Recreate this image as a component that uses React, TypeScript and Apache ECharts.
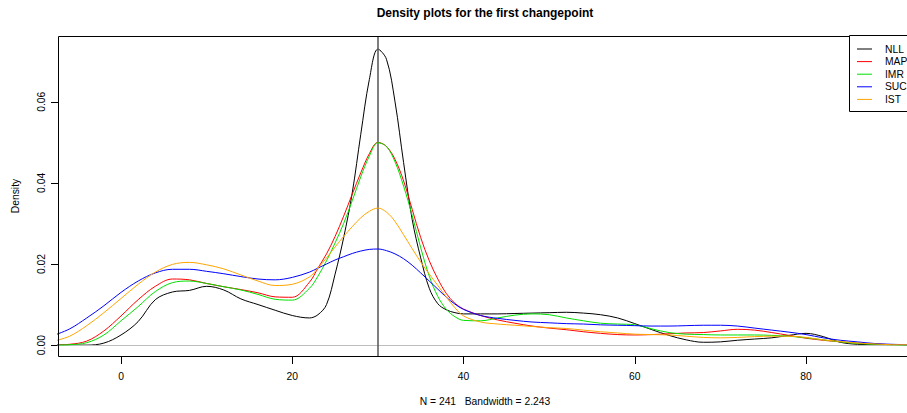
import React, { useEffect, useRef } from "react";
import * as echarts from "echarts";

const xs = [-8, -6, -4, -2, 0, 2, 4, 6, 8, 10, 12, 14, 16, 18, 20, 22,
  23, 24, 25, 26, 27, 28, 29, 30, 31, 32, 33, 34, 35, 36, 37, 38, 39, 40,
  42, 44, 46, 48, 50, 52, 54, 56, 58, 60, 62, 64, 66, 68, 70, 72, 74, 76, 78, 80, 82, 84, 86, 88, 90, 92, 94];

const nll = [0.0000, 0.0000, 0.0000, 0.0005, 0.0025, 0.0058, 0.0112, 0.0131, 0.0135, 0.0145, 0.0136, 0.0114, 0.0100, 0.0086, 0.0073, 0.0067,
  0.0075, 0.0100, 0.0175, 0.0265, 0.0375, 0.0520, 0.0655, 0.0730, 0.0705, 0.0600, 0.0450, 0.0310, 0.0215, 0.0140, 0.0102, 0.0087, 0.0080, 0.0077,
  0.0077, 0.0077, 0.0078, 0.0079, 0.0080, 0.0081, 0.0079, 0.0075, 0.0067, 0.0053, 0.0038, 0.0024, 0.0013, 0.0007, 0.0008, 0.0012, 0.0015, 0.0018, 0.0024, 0.0029, 0.0021, 0.0007, 0.0002, 0.0001, 0.0000, 0.0000, 0.0000];

const mapv = [0.0000, 0.0002, 0.0010, 0.0035, 0.0072, 0.0112, 0.0145, 0.0163, 0.0161, 0.0152, 0.0144, 0.0137, 0.0129, 0.0119, 0.0118, 0.0155,
  0.0190, 0.0225, 0.0268, 0.0318, 0.0372, 0.0425, 0.0472, 0.0500, 0.0490, 0.0458, 0.0405, 0.0335, 0.0265, 0.0208, 0.0163, 0.0127, 0.0103, 0.0089,
  0.0073, 0.0062, 0.0054, 0.0047, 0.0042, 0.0038, 0.0033, 0.0029, 0.0026, 0.0025, 0.0026, 0.0028, 0.0030, 0.0031, 0.0035, 0.0039, 0.0037, 0.0031, 0.0024, 0.0017, 0.0012, 0.0008, 0.0005, 0.0003, 0.0001, 0.0000, 0.0000];

const imr = [0.0000, 0.0001, 0.0006, 0.0025, 0.0060, 0.0095, 0.0132, 0.0154, 0.0158, 0.0152, 0.0144, 0.0136, 0.0125, 0.0113, 0.0111, 0.0140,
  0.0170, 0.0208, 0.0252, 0.0300, 0.0356, 0.0415, 0.0466, 0.0499, 0.0490, 0.0452, 0.0392, 0.0320, 0.0240, 0.0170, 0.0120, 0.0088, 0.0070, 0.0061,
  0.0060, 0.0067, 0.0074, 0.0077, 0.0075, 0.0067, 0.0060, 0.0054, 0.0052, 0.0050, 0.0040, 0.0031, 0.0027, 0.0026, 0.0025, 0.0025, 0.0025, 0.0024, 0.0022, 0.0018, 0.0013, 0.0008, 0.0004, 0.0002, 0.0001, 0.0000, 0.0000];

const suc = [0.0023, 0.0040, 0.0067, 0.0097, 0.0130, 0.0158, 0.0178, 0.0187, 0.0187, 0.0182, 0.0176, 0.0169, 0.0163, 0.0161, 0.0167, 0.0180,
  0.0190, 0.0200, 0.0210, 0.0218, 0.0226, 0.0232, 0.0236, 0.0237, 0.0233, 0.0225, 0.0213, 0.0197, 0.0178, 0.0158, 0.0138, 0.0118, 0.0101, 0.0088,
  0.0073, 0.0066, 0.0061, 0.0057, 0.0055, 0.0053, 0.0052, 0.0050, 0.0049, 0.0048, 0.0047, 0.0047, 0.0048, 0.0049, 0.0049, 0.0047, 0.0042, 0.0037, 0.0032, 0.0026, 0.0018, 0.0012, 0.0008, 0.0004, 0.0002, 0.0001, 0.0000];

const ist = [0.0009, 0.0022, 0.0048, 0.0080, 0.0115, 0.0150, 0.0180, 0.0199, 0.0204, 0.0198, 0.0188, 0.0173, 0.0158, 0.0147, 0.0150, 0.0168,
  0.0190, 0.0215, 0.0242, 0.0268, 0.0292, 0.0314, 0.0330, 0.0338, 0.0328, 0.0305, 0.0272, 0.0238, 0.0205, 0.0175, 0.0147, 0.0118, 0.0092, 0.0072,
  0.0057, 0.0052, 0.0049, 0.0046, 0.0043, 0.0041, 0.0037, 0.0033, 0.0030, 0.0027, 0.0026, 0.0025, 0.0022, 0.0019, 0.0018, 0.0019, 0.0021, 0.0022, 0.0022, 0.0019, 0.0013, 0.0009, 0.0005, 0.0003, 0.0001, 0.0001, 0.0000];

const seriesNames = ["NLL", "MAP", "IMR", "SUC", "IST"];
const seriesColors = ["#000000", "#FF0000", "#00E000", "#0000FF", "#FFA500"];
const seriesValues = [nll, mapv, imr, suc, ist];
const xTicks = [0, 20, 40, 60, 80];
const yTicks = [0, 0.02, 0.04, 0.06];
const changepoint = 30;
const titleText = "Density plots for the first changepoint";
const subText = "N = 241   Bandwidth = 2.243";

const FONT = "Liberation Sans, Arial, Helvetica, sans-serif";

export default function App() {
  const ref = useRef<HTMLDivElement>(null);
  useEffect(() => {
    if (!ref.current) return;
    const chart = echarts.init(ref.current, undefined, { renderer: "svg" });
    const series: any[] = seriesValues.map((vals, i) => ({
      name: seriesNames[i],
      type: "line",
      data: xs.map((x, j) => [x, vals[j]]),
      smooth: 0.35,
      showSymbol: false,
      symbol: "none",
      lineStyle: { color: seriesColors[i], width: 1 },
      itemStyle: { color: seriesColors[i] },
      z: 3 + i,
      silent: true,
    }));
    series.unshift({
      type: "line",
      data: [],
      silent: true,
      z: 2,
      markLine: {
        silent: true,
        symbol: ["none", "none"],
        label: { show: false },
        data: [
          { yAxis: 0, lineStyle: { color: "#bebebe", width: 1, type: "solid" } },
          { xAxis: changepoint, lineStyle: { color: "#555555", width: 1.5, type: "solid" } },
        ],
      },
    });
    const legendGraphics: any[] = [
      {
        type: "rect",
        shape: { x: 849.5, y: 35.5, width: 80, height: 76 },
        style: { fill: "#ffffff", stroke: "#000000", lineWidth: 1 },
        z: 100,
      },
    ];
    seriesNames.forEach((n, i) => {
      const y = 49 + i * 12.6;
      legendGraphics.push({
        type: "line",
        shape: { x1: 857, y1: y, x2: 872, y2: y },
        style: { stroke: seriesColors[i], lineWidth: 1 },
        z: 101,
      });
      legendGraphics.push({
        type: "text",
        x: 885,
        y: y,
        style: { text: n, fill: "#000", font: `10.3px ${FONT}`, textAlign: "left", textVerticalAlign: "middle" },
        z: 101,
      });
    });
    chart.setOption({
      animation: false,
      backgroundColor: "#ffffff",
      grid: {
        left: 58,
        top: 36,
        width: 849,
        height: 321,
        show: false,
        containLabel: false,
      },
      xAxis: {
        type: "value",
        min: -7.36,
        max: 91.79,
        axisLine: { show: false, onZero: false },
        splitLine: { show: false },
        axisTick: { show: true, length: 7, inside: false, customValues: xTicks, lineStyle: { color: "#000" } },
        axisLabel: {
          customValues: xTicks,
          margin: 14,
          color: "#000",
          fontSize: 10.3,
          fontFamily: FONT,
          formatter: (v: number) => String(v),
        },
      },
      yAxis: {
        type: "value",
        min: -0.00293,
        max: 0.07623,
        axisLine: { show: false, onZero: false },
        splitLine: { show: false },
        axisTick: { show: true, length: 7, inside: false, customValues: yTicks, lineStyle: { color: "#000" } },
        axisLabel: {
          customValues: yTicks,
          rotate: 90,
          margin: 12,
          color: "#000",
          fontSize: 10.3,
          fontFamily: FONT,
          formatter: (v: number) => v.toFixed(2),
        },
      },
      graphic: [
        {
          type: "rect",
          shape: { x: 58.5, y: 36.5, width: 900, height: 320 },
          style: { fill: "none", stroke: "#000000", lineWidth: 1 },
          z: 50,
          silent: true,
        },
        {
          type: "text",
          x: 485,
          y: 13,
          style: { text: titleText, fill: "#000", font: `bold 12px ${FONT}`, textAlign: "center", textVerticalAlign: "middle" },
        },
        {
          type: "text",
          x: 485,
          y: 401,
          style: { text: subText, fill: "#000", font: `10.3px ${FONT}`, textAlign: "center", textVerticalAlign: "middle" },
        },
        {
          type: "text",
          x: 15,
          y: 196,
          rotation: Math.PI / 2,
          style: { text: "Density", fill: "#000", font: `10.3px ${FONT}`, textAlign: "center", textVerticalAlign: "middle" },
        },
        ...legendGraphics,
      ],
      series,
    });
    return () => chart.dispose();
  }, []);
  return (
    <div
      ref={ref}
      style={{ position: "fixed", left: 0, top: 0, width: 907, height: 413, background: "#fff" }}
    />
  );
}
